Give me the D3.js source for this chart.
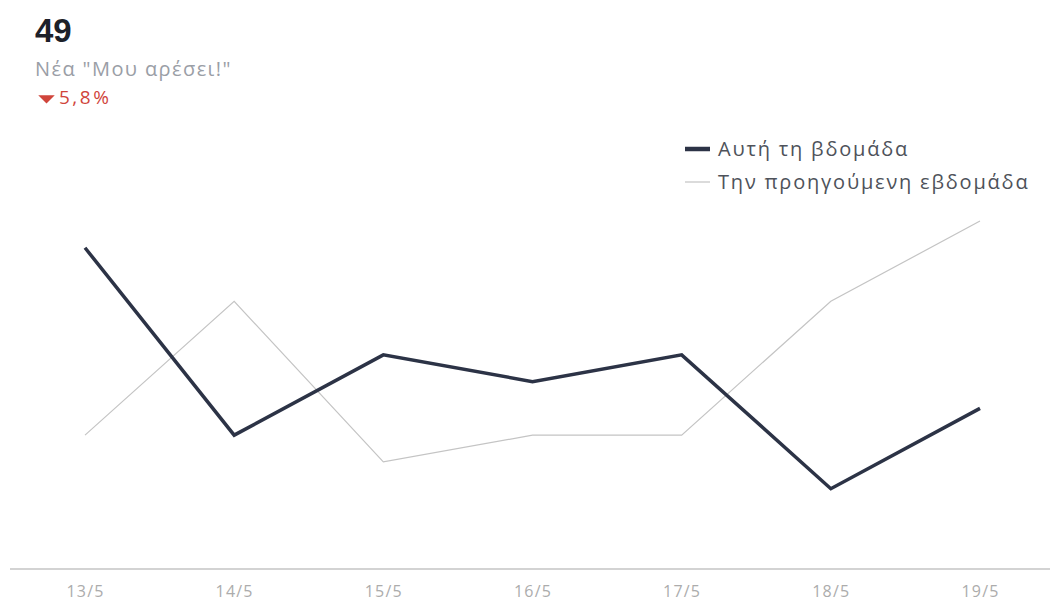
<!DOCTYPE html>
<html>
<head>
<meta charset="utf-8">
<script src="https://cdn.jsdelivr.net/npm/d3@7"></script>
<style>
  html, body { margin: 0; padding: 0; background: #fff; }
  svg { display: block; }
</style>
</head>
<body>
<div id="chart"></div>
<script>
const WIDTH = 1054;
const HEIGHT = 601;

const days = ['13/5', '14/5', '15/5', '16/5', '17/5', '18/5', '19/5'];
const thisWeek = [12, 5, 8, 7, 8, 3, 6];
const lastWeek = [5, 10, 4, 5, 5, 10, 13];
const seriesNames = ['Αυτή τη βδομάδα', 'Την προηγούμενη εβδομάδα'];

const total = d3.sum(thisWeek);
const change = (total - d3.sum(lastWeek)) / d3.sum(lastWeek) * 100;

const FONT = '"Open Sans", "Liberation Sans", sans-serif';

const svg = d3.select('#chart')
    .append('svg')
        .attr('width', WIDTH)
        .attr('height', HEIGHT);

const x = d3.scalePoint()
    .domain(days)
    .range([85, 980]);

const y = d3.scaleLinear()
    .domain([0, 13])
    .range([569, 221]);

// header
svg.append('text')
    .attr('x', 35).attr('y', 42)
    .attr('font-family', '"Liberation Sans", Arial, sans-serif')
    .attr('font-weight', 'bold')
    .attr('font-size', 33)
    .attr('fill', '#1d2129')
    .text(total);

svg.append('text')
    .attr('x', 35).attr('y', 76)
    .attr('font-family', FONT)
    .attr('font-size', 20)
    .attr('letter-spacing', 1.4)
    .attr('fill', '#9a9ea6')
    .text('Νέα "Μου αρέσει!"');

// down arrow, a bit flatter than the default triangle
svg.append('path')
    .attr('d', d3.symbol().type(d3.symbolTriangle).size(70)())
    .attr('transform', 'translate(46.5, 98) scale(1.3, 0.75) rotate(180)')
    .attr('fill', '#d0453b');

svg.append('text')
    .attr('x', 59).attr('y', 104)
    .attr('font-family', FONT)
    .attr('font-size', 19)
    .attr('letter-spacing', 2.5)
    .attr('fill', '#d0453b')
    .text(d3.format('.1f')(Math.abs(change)).replace('.', ',') + '%');

// baseline + ticks
svg.append('line')
    .attr('x1', 10).attr('x2', 1050)
    .attr('y1', y(0)).attr('y2', y(0))
    .attr('stroke', '#d3d3d3')
    .attr('stroke-width', 2);

const xAxis = svg.append('g')
    .attr('transform', `translate(0, ${y(0)})`)
    .call(d3.axisBottom(x).tickSize(0).tickPadding(17));
xAxis.select('.domain').remove();
xAxis.selectAll('text')
    .attr('font-family', FONT)
    .attr('font-size', 16)
    .attr('letter-spacing', 1.2)
    .attr('fill', '#acacac');

// lines
const line = d3.line()
    .x((d, i) => x(days[i]))
    .y(d => y(d));

svg.append('path')
    .datum(lastWeek)
    .attr('d', line)
    .attr('fill', 'none')
    .attr('stroke', '#c4c4c4')
    .attr('stroke-width', 1.2);

svg.append('path')
    .datum(thisWeek)
    .attr('d', line)
    .attr('fill', 'none')
    .attr('stroke', '#2c3346')
    .attr('stroke-width', 3.5)
    .attr('stroke-linejoin', 'miter');

// legend
const legend = svg.append('g')
    .attr('transform', 'translate(685, 149)');

const legendStyle = [
    { color: '#2c3346', width: 4.5 },
    { color: '#c4c4c4', width: 1.2 }
];

seriesNames.forEach((name, i) => {
    const row = legend.append('g')
        .attr('transform', `translate(0, ${i * 33})`);
    row.append('line')
        .attr('x1', 0).attr('x2', 25)
        .attr('stroke', legendStyle[i].color)
        .attr('stroke-width', legendStyle[i].width);
    row.append('text')
        .attr('x', 33).attr('y', 7)
        .attr('font-family', FONT)
        .attr('font-size', 20)
        .attr('letter-spacing', 1.8)
        .attr('fill', '#4e525a')
        .text(name);
});
</script>
</body>
</html>
